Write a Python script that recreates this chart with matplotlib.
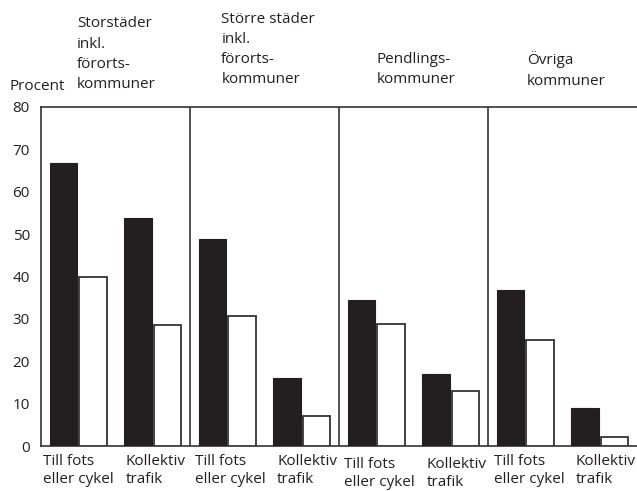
import matplotlib.pyplot as plt

plt.rcParams['font.family'] = ['Open Sans', 'DejaVu Sans']

# Kommungrupper och färdsätt
groups = ['Storstäder\ninkl.\nförorts-\nkommuner',
          'Större städer\ninkl.\nförorts-\nkommuner',
          'Pendlings-\nkommuner',
          'Övriga\nkommuner']
modes = ['Till fots\neller cykel', 'Kollektiv\ntrafik']

# Andel i procent, svarta och vita staplar per grupp (fots/cykel, kollektivt)
black_vals = [[66.8, 53.8], [48.9, 16.1], [34.5, 16.9], [36.8, 9.0]]
white_vals = [[39.9, 28.6], [30.7, 7.1], [28.7, 13.0], [24.9, 2.1]]
y_ticks = [0, 10, 20, 30, 40, 50, 60, 70, 80]

fig = plt.figure(figsize=(6.37, 4.91), dpi=100)
ax = fig.add_axes([41 / 637, 45 / 491, 596 / 637, 339 / 491])

dark = '#231f20'
edge = '#333333'
fs = 11
bw = 0.185
for g in range(len(groups)):
    for m in range(len(modes)):
        c = g + 0.25 + 0.5 * m
        ax.bar(c - 0.1, black_vals[g][m], width=bw, color=dark, edgecolor=dark,
               linewidth=0.8, zorder=3)
        ax.bar(c + 0.1, white_vals[g][m], width=bw, color='white',
               edgecolor=edge, linewidth=1.3, zorder=3)

# separators between municipality groups
for g in range(1, len(groups)):
    ax.axvline(g, color=edge, linewidth=1.2, zorder=2)

ax.set_xlim(0, 4.0)
ax.set_ylim(0, 80)
ax.set_xticks([])
ax.set_yticks(y_ticks)
ax.tick_params(axis='y', length=0, pad=8, labelsize=fs, labelcolor=dark)
for s in ['left', 'bottom', 'top']:
    ax.spines[s].set_color(edge)
    ax.spines[s].set_linewidth(1.2)
ax.spines['right'].set_visible(False)

# group headers above the plot area
head_x = [0.24, 0.21, 0.25, 0.26]
head_y = [101.4, 102.5, 93.0, 93.1]
for g, name in enumerate(groups):
    ax.text(g + head_x[g], head_y[g], name, ha='left', va='top', fontsize=fs,
            color=dark, linespacing=1.48, clip_on=False)
ax.text(-0.21, 86.6, 'Procent', ha='left', va='top', fontsize=fs,
        color=dark, clip_on=False)

# category labels under each bar pair
till_x = [0.014, 0.034, 0.034, 0.04]
koll_x = [0.57, 0.584, 0.59, 0.59]
lab_y = [-1.9, -1.9, -2.6, -1.9]
for g in range(len(groups)):
    ax.text(g + till_x[g], lab_y[g], modes[0], ha='left', va='top', fontsize=fs,
            color=dark, linespacing=1.3, clip_on=False)
    ax.text(g + koll_x[g], lab_y[g], modes[1], ha='left', va='top', fontsize=fs,
            color=dark, linespacing=1.3, clip_on=False)

fig.savefig('out.png', dpi=100)
